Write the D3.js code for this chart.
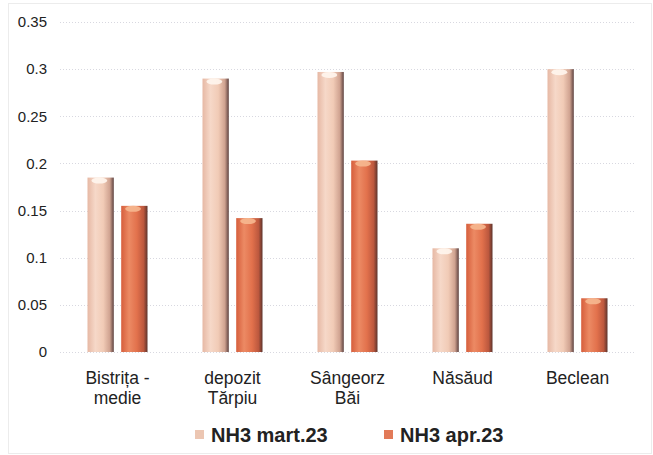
<!DOCTYPE html>
<html><head><meta charset="utf-8">
<script src="https://cdn.jsdelivr.net/npm/d3@7/dist/d3.min.js"></script>
<style>body{margin:0;background:#fff}svg{display:block}</style>
</head><body>
<svg id="chart" width="653" height="455"></svg>
<script>
const categories = [["Bistrița -","medie"],["depozit","Tărpiu"],["Sângeorz","Băi"],["Năsăud"],["Beclean"]];
const seriesNames = ["NH3 mart.23","NH3 apr.23"];
const martValues = [0.185, 0.29, 0.297, 0.11, 0.3];
const aprValues = [0.155, 0.142, 0.203, 0.136, 0.057];
const yTicks = [0, 0.05, 0.1, 0.15, 0.2, 0.25, 0.3, 0.35];
const yTickLabels = ["0","0.05","0.1","0.15","0.2","0.25","0.3","0.35"];

const svg = d3.select("#chart");
const m = {l:60, r:18, t:22, b:103};
const W = 653, H = 455;
const font = "Liberation Sans, Arial, sans-serif";
const x0 = d3.scaleBand().domain(d3.range(categories.length)).range([m.l, W-m.r]).paddingInner(0).paddingOuter(0);
const x1 = d3.scaleBand().domain([0,1]).range([x0.bandwidth()/2-30, x0.bandwidth()/2+30]).paddingInner(0.22);
const y = d3.scaleLinear().domain([0,0.35]).range([H-m.b, m.t]);

// frame
svg.append("rect").attr("x",8.5).attr("y",3.5).attr("width",643).attr("height",450)
  .attr("fill","#fff").attr("stroke","#ececec").attr("stroke-width",1);

const defs = svg.append("defs");
function grad(id, stops){
  const g = defs.append("linearGradient").attr("id",id).attr("x1","0").attr("x2","1").attr("y1","0").attr("y2","0");
  stops.forEach(s=>g.append("stop").attr("offset",s[0]).attr("stop-color",s[1]));
}
grad("gL",[[0,"#e6b8a4"],[0.3,"#f6d8c8"],[0.6,"#f1cbb6"],[0.85,"#cfa290"],[1,"#5e4240"]]);
grad("gD",[[0,"#d65e3c"],[0.3,"#ec8a64"],[0.6,"#e2714c"],[0.85,"#bc583e"],[1,"#5e342c"]]);

// gridlines
svg.append("g").selectAll("line").data(yTicks).join("line")
  .attr("x1",m.l).attr("x2",W-m.r).attr("y1",d=>Math.round(y(d))+0.5).attr("y2",d=>Math.round(y(d))+0.5)
  .attr("stroke","#d8d8e0").attr("stroke-dasharray","1,2").attr("stroke-width",1);

// y axis labels
const yAxis = d3.axisLeft(y).tickValues(yTicks).tickFormat((d,i)=>yTickLabels[i]).tickSize(0).tickPadding(0);
const ga = svg.append("g").attr("transform",`translate(${m.l-13},0)`).call(yAxis);
ga.select(".domain").remove();
ga.selectAll("text").attr("font-family",font).attr("font-size",15).attr("fill","#222");

const series = [martValues, aprValues];
const fills = ["url(#gL)","url(#gD)"];
const caps = ["#fff6ee","#f6b890"];
series.forEach((vals,si)=>{
  const g = svg.append("g");
  g.selectAll("rect").data(vals).join("rect")
    .attr("x",(d,i)=>x0(i)+x1(si)).attr("width",x1.bandwidth())
    .attr("y",d=>y(d)).attr("height",d=>y(0)-y(d))
    .attr("fill",fills[si]);
  g.selectAll("ellipse").data(vals).join("ellipse")
    .attr("cx",(d,i)=>x0(i)+x1(si)+x1.bandwidth()*0.45).attr("cy",d=>y(d)+3)
    .attr("rx",x1.bandwidth()*0.3).attr("ry",3)
    .attr("fill",caps[si]).attr("opacity",0.9);
});

// x labels
const xl = svg.append("g");
categories.forEach((lines,i)=>{
  const cx = x0(i)+x0.bandwidth()/2;
  const t = xl.append("text").attr("x",cx).attr("y",384)
    .attr("text-anchor","middle").attr("font-family",font)
    .attr("font-size",17.5).attr("fill","#222");
  lines.forEach((l,j)=>t.append("tspan").attr("x",cx).attr("dy",j?20:0).text(l));
});

// legend
const legX = [195, 384];
const legFill = ["#ecc6b2","#e27a58"];
seriesNames.forEach((n,i)=>{
  svg.append("rect").attr("x",legX[i]).attr("y",430).attr("width",9).attr("height",9).attr("fill",legFill[i]);
  svg.append("text").attr("x",legX[i]+16).attr("y",442).text(n)
    .attr("font-family",font).attr("font-weight","bold")
    .attr("font-size",20).attr("fill","#222");
});
</script>
</body></html>
